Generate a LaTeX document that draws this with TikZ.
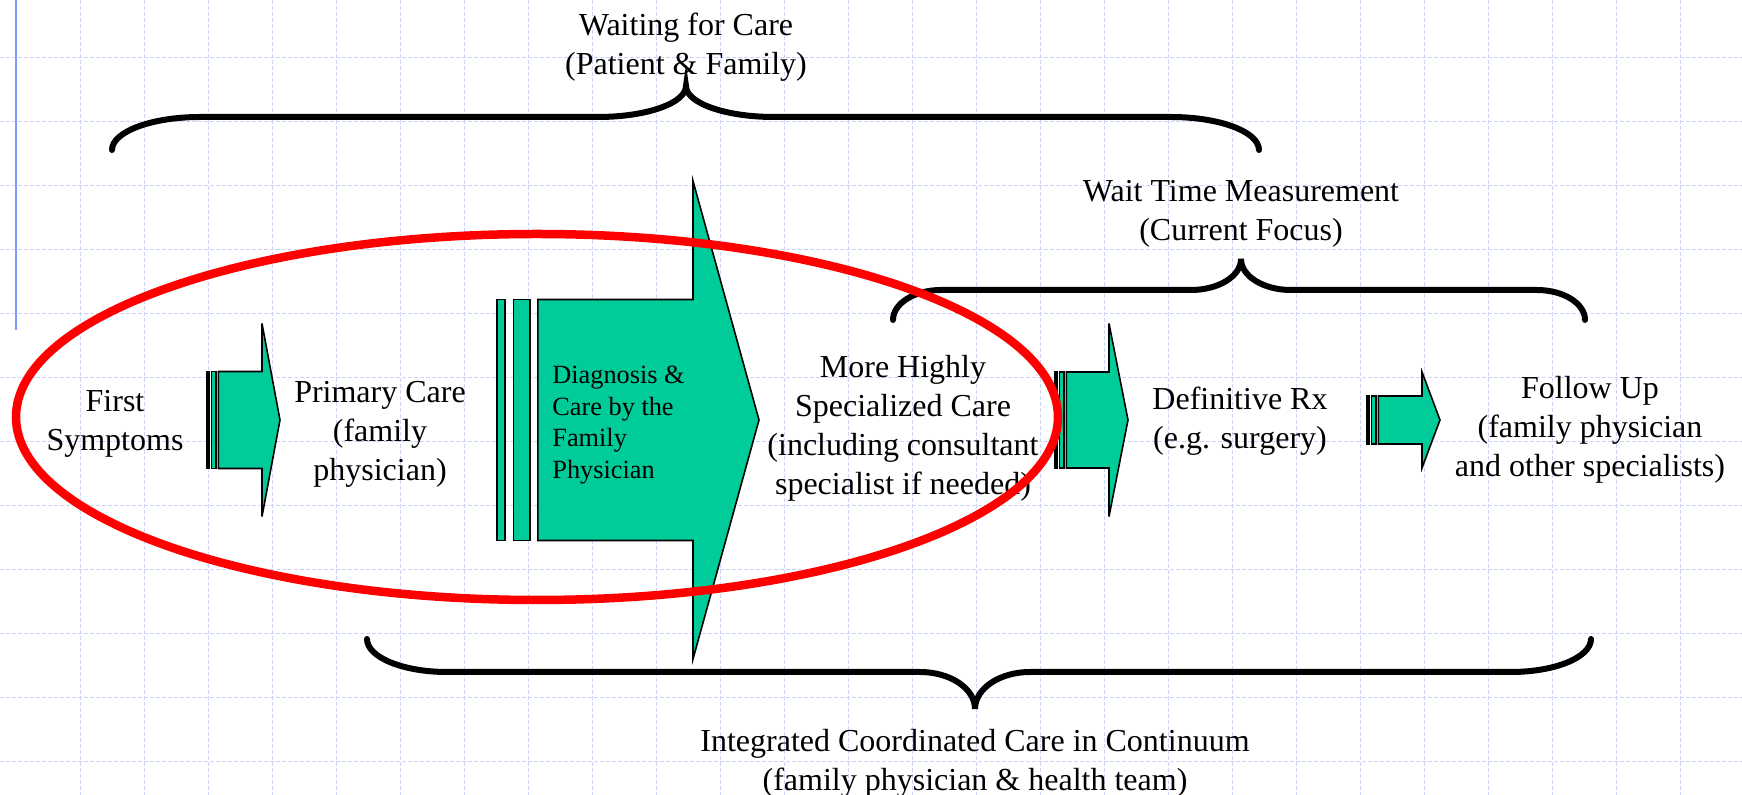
\documentclass[tikz,border=0pt]{standalone}
\usepackage{fontspec}
\setmainfont{Liberation Serif}
\definecolor{arrowgreen}{RGB}{0,204,153}
\definecolor{gridblue}{RGB}{205,212,250}
\definecolor{marginblue}{RGB}{128,150,255}

% curly brace: left x, middle x, right x, tip y, line y, peak y, outer radius, inner radius
\newcommand{\curlybrace}[8]{%
  \pgfmathsetmacro\brTipY{#4+0.552*(#5-#4)}%
  \pgfmathsetmacro\brPkY{#6+0.552*(#5-#6)}%
  \pgfmathsetmacro\brA{#1+#7}\pgfmathsetmacro\brAc{#1+0.448*#7}%
  \pgfmathsetmacro\brB{#2-#8}\pgfmathsetmacro\brBc{#2-0.448*#8}%
  \pgfmathsetmacro\brC{#2+#8}\pgfmathsetmacro\brCc{#2+0.448*#8}%
  \pgfmathsetmacro\brD{#3-#7}\pgfmathsetmacro\brDc{#3-0.448*#7}%
  \draw[bracestyle] (#1,#4) .. controls (#1,\brTipY) and (\brAc,#5) .. (\brA,#5)
    -- (\brB,#5) .. controls (\brBc,#5) and (#2,\brPkY) .. (#2,#6)
    .. controls (#2,\brPkY) and (\brCc,#5) .. (\brC,#5)
    -- (\brD,#5) .. controls (\brDc,#5) and (#3,\brTipY) .. (#3,#4);}

% striped arrow: start x, head x, tip x, centre y, body half height, head half height, size
\newcommand{\stripedarrow}[7]{%
  \pgfmathsetmacro\saA{#1+#7/32}\pgfmathsetmacro\saB{#1+#7/16}%
  \pgfmathsetmacro\saC{#1+#7/8}\pgfmathsetmacro\saD{#1+5*#7/32}%
  \pgfmathsetmacro\saT{#4-#5}\pgfmathsetmacro\saU{#4+#5}%
  \pgfmathsetmacro\saHT{#4-#6}\pgfmathsetmacro\saHU{#4+#6}%
  \draw[arrowbody] (#1,\saT) rectangle (\saA,\saU);
  \draw[arrowbody] (\saB,\saT) rectangle (\saC,\saU);
  \draw[arrowbody] (\saD,\saT) -- (#2,\saT) -- (#2,\saHT) -- (#3,#4)
    -- (#2,\saHU) -- (#2,\saU) -- (\saD,\saU) -- cycle;}

\begin{document}
\begin{tikzpicture}[x=0.5pt,y=-0.5pt,
    gridline/.style={gridblue,line width=0.5pt,dash pattern=on 2pt off 1pt},
    bracestyle/.style={line width=3pt,line cap=round},
    arrowbody/.style={fill=arrowgreen,draw=black,line width=0.8pt,line join=miter},
    lbl/.style={align=center,inner sep=0pt,font=\fontsize{16}{19.5}\selectfont}]
	\useasboundingbox (0,0) rectangle (1742,795);
	\fill[white] (0,0) rectangle (1742,795);
	% background grid
	\foreach \gx in {80,144,...,1742}
		\draw[gridline] (\gx,0) -- (\gx,795);
	\foreach \gy in {58,122,...,795}
		\draw[gridline] (0,\gy) -- (1742,\gy);
	\draw[marginblue,line width=1pt] (16,0) -- (16,330);
	% braces
	\curlybrace{112}{686}{1259}{150}{117}{86}{88}{88}
	\curlybrace{893}{1241}{1585}{320}{290}{259}{48}{50}
	\curlybrace{367}{975}{1591}{639}{672}{709}{80}{55}
	% arrows
	\stripedarrow{207}{262}{280}{420}{48.5}{96.5}{73}
	\stripedarrow{497}{693}{759}{420}{120.5}{239}{262}
	\stripedarrow{1055}{1109}{1128}{420}{48}{96.5}{73}
	\stripedarrow{1367}{1422}{1440}{420}{24}{48}{73}
	% labels
	\node[lbl] (waiting) at (686,47) {Waiting for Care\\(Patient \& Family)};
	\node[lbl] (measurement) at (1241,214) {Wait Time Measurement\\(Current Focus)};
	\node[lbl] (integrated) at (975,763) {Integrated Coordinated Care in Continuum\\(family physician \& health team)};
	\node[lbl] (symptoms) at (115,424) {First\\Symptoms};
	\node[lbl] (primary) at (380,434) {Primary Care\\(family\\physician)};
	\node[lbl,align=left,anchor=west,font=\fontsize{13.15}{15.75}\selectfont] (diagnosis) at (552,425)
		{Diagnosis \&\\Care by the\\Family\\Physician};
	\node[lbl] (specialized) at (903,428) {More Highly\\Specialized Care\\(including consultant\\specialist if needed)};
	\node[lbl] (definitive) at (1240,421) {Definitive Rx\\(e.g. surgery)};
	\node[lbl] (followup) at (1590,430) {Follow Up\\(family physician\\and other specialists)};
	% red ellipse
	\draw[red,line width=4.25pt] (537,417) ellipse [x radius=260.5pt, y radius=91.5pt];
\end{tikzpicture}
\end{document}
